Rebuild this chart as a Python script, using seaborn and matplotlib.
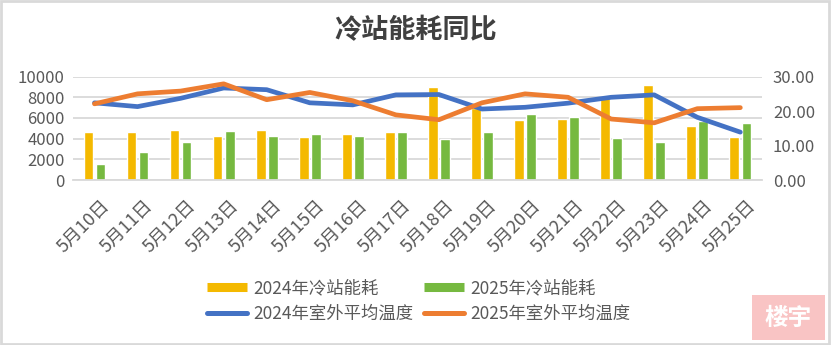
import numpy as np
import pandas as pd
import matplotlib
matplotlib.use("Agg")
import matplotlib.pyplot as plt
from matplotlib.lines import Line2D
from matplotlib.patches import Rectangle
import matplotlib.transforms as mtransforms
import seaborn as sns

sns.set_theme(style="white")
plt.rcParams['font.family'] = ['Noto Sans CJK SC', 'DejaVu Sans']

# ---------------- data ----------------
dates = ["5月10日", "5月11日", "5月12日", "5月13日", "5月14日", "5月15日", "5月16日", "5月17日",
         "5月18日", "5月19日", "5月20日", "5月21日", "5月22日", "5月23日", "5月24日", "5月25日"]
energy_2024 = [4600, 4600, 4800, 4300, 4800, 4200, 4500, 4600,
               9000, 7000, 5800, 5900, 7900, 9200, 5200, 4200]
energy_2025 = [1600, 2750, 3650, 4700, 4300, 4500, 4300, 4600,
               4000, 4600, 6400, 6100, 4100, 3700, 5700, 5500]
temp_2024 = [22.4, 21.3, 23.7, 26.7, 26.2, 22.4, 21.8, 24.7,
             24.8, 20.6, 21.1, 22.3, 24.0, 24.7, 18.2, 13.9]
temp_2025 = [22.1, 25.0, 25.8, 27.9, 23.3, 25.4, 23.0, 18.9,
             17.5, 22.4, 25.0, 24.0, 17.7, 16.6, 20.7, 21.0]
series_bar = ["2024年冷站能耗", "2025年冷站能耗"]
series_line = ["2024年室外平均温度", "2025年室外平均温度"]
title = "冷站能耗同比"

c_y = "#F4B900"
c_g = "#76B940"
c_b = "#4472C4"
c_o = "#ED7D31"
txt = "#595959"
grid_c = "#D9D9D9"

bar_df = pd.DataFrame({
    "date": dates * 2,
    "value": energy_2024 + energy_2025,
    "series": [series_bar[0]] * len(dates) + [series_bar[1]] * len(dates),
})
x_idx = np.arange(len(dates))

fig = plt.figure(figsize=(8.31, 3.45), dpi=100)
ax = fig.add_axes([0.0878, 0.478, 0.829, 0.300])

sns.barplot(data=bar_df, x="date", y="value", hue="series", order=dates,
            palette=[c_y, c_g], width=0.56, gap=0.2, ax=ax, legend=False,
            saturation=1, errorbar=None, zorder=2)
ax.set_xlim(-0.5, len(dates) - 0.5)
ax.set_ylim(0, 10000)
ax.set_yticks(np.arange(0, 10001, 2000))
ax.set_yticklabels([str(v) for v in range(0, 10001, 2000)])
ax.yaxis.grid(True, color=grid_c, lw=1.3, zorder=0)
ax.set_axisbelow(True)
ax.set_xlabel("")
ax.set_ylabel("")
for s in ["top", "left", "right"]:
    ax.spines[s].set_visible(False)
ax.spines["bottom"].set_color(grid_c)
ax.spines["bottom"].set_linewidth(1.3)
ax.tick_params(axis="y", length=0, labelsize=12, labelcolor=txt, pad=6)
ax.set_xticks(x_idx)
ax.set_xticklabels(dates, rotation=45, ha="right", rotation_mode="anchor")
ax.tick_params(axis="x", which="major", length=0, labelsize=13, labelcolor=txt, pad=12)
offset = mtransforms.ScaledTranslation(6 / 100, 0, fig.dpi_scale_trans)
for lbl in ax.get_xticklabels():
    lbl.set_transform(lbl.get_transform() + offset)
ax.set_xticks(np.arange(-0.5, len(dates), 1.0), minor=True)
ax.tick_params(axis="x", which="minor", length=5, color=grid_c, width=1.3)

ax2 = ax.twinx()
sns.lineplot(x=x_idx, y=temp_2024, ax=ax2, color=c_b, lw=3.4, solid_capstyle="round")
sns.lineplot(x=x_idx, y=temp_2025, ax=ax2, color=c_o, lw=3.4, solid_capstyle="round")
ax2.set_ylim(0, 30)
ax2.set_yticks([0, 10, 20, 30])
ax2.set_yticklabels(["0.00", "10.00", "20.00", "30.00"])
ax2.tick_params(axis="y", length=0, labelsize=12, labelcolor=txt, pad=8)
for s in ["top", "left", "right", "bottom"]:
    ax2.spines[s].set_visible(False)
ax2.set_xlim(-0.5, len(dates) - 0.5)

fig.text(0.5, 0.912, title, ha="center", va="center", fontsize=19.5,
         fontweight="bold", color="#404040")

handles = [
    Line2D([0], [0], color=c_y, lw=6.5, solid_capstyle="butt"),
    Line2D([0], [0], color=c_b, lw=3.6, solid_capstyle="round"),
    Line2D([0], [0], color=c_g, lw=6.5, solid_capstyle="butt"),
    Line2D([0], [0], color=c_o, lw=3.6, solid_capstyle="round"),
]
labels = [series_bar[0], series_line[0], series_bar[1], series_line[1]]
leg = fig.legend(handles, labels, ncol=2, loc="center", bbox_to_anchor=(0.504, 0.128),
                 frameon=False, fontsize=12.5, handlelength=2.3, columnspacing=0.6,
                 handletextpad=0.35, labelspacing=0.45, borderpad=0.2)
for t in leg.get_texts():
    t.set_color(txt)

# watermark seal
fig.patches.append(Rectangle((752 / 831, 5 / 345), 73 / 831, 45 / 345, transform=fig.transFigure,
                             facecolor="#F9C4C4", edgecolor="none", zorder=5))
fig.text(788.5 / 831, 27.5 / 345, "楼宇", ha="center", va="center", fontsize=17,
         fontweight="bold", color="white", zorder=6)

# figure border
fig.patches.append(Rectangle((0.001, 0.003), 0.997, 0.995, transform=fig.transFigure,
                             facecolor="none", edgecolor=grid_c, lw=2, zorder=10))

fig.savefig("out.png", dpi=100)
